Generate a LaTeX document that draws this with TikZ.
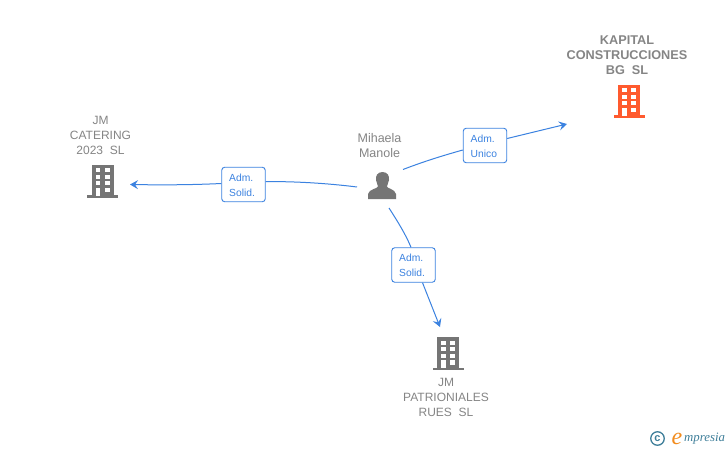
\documentclass[tikz,border=0pt]{standalone}
\usepackage{fontspec}
\setmainfont{Liberation Sans}
\newfontfamily\logofont{Liberation Serif}
\usetikzlibrary{arrows.meta}
\definecolor{linkblue}{HTML}{3B82E0}
\definecolor{icongray}{HTML}{757575}
\definecolor{textgray}{HTML}{858585}
\definecolor{hot}{HTML}{FF5A2E}
\definecolor{logoblue}{HTML}{3F7F9A}
\definecolor{logoorange}{HTML}{F28C1E}
\tikzset{
  x=1pt,y=-1pt,
  building/.pic={
    \fill[pic actions] (-11,-16) rectangle (11,15);
    \fill[pic actions] (-15.5,14.5) rectangle (15.5,17);
    \foreach \yy in {-12.5,-6,0.5}{
      \fill[white] (-7,\yy) rectangle (-2.5,{\yy+4});
      \fill[white] (2,\yy) rectangle (7,{\yy+4});
    }
    \fill[white] (-7,7) rectangle (-2.5,15);
    \fill[white] (2,7) rectangle (7,11.5);
  },
  entname/.style={text=textgray,font=\fontsize{12}{15}\selectfont,align=center,inner sep=0pt},
  boldname/.style={entname,font=\fontsize{12.7}{15}\selectfont\bfseries},
  role/.style={draw=linkblue,line width=0.9pt,rounded corners=3pt,text=linkblue,
    minimum width=43.5pt,minimum height=34.5pt,inner sep=0pt},
  roletext/.style={inner sep=0pt,text=linkblue,font=\fontsize{10.3}{15}\selectfont,align=left,anchor=west},
  link/.style={draw=linkblue,line width=1pt},
  arrowed/.style={link,-{Stealth[length=8pt,width=9pt,inset=3pt]}},
}
\begin{document}
\begin{tikzpicture}
\useasboundingbox (0,0) rectangle (728,450);
\fill[white] (0,0) rectangle (728,450);
% companies
\pic[icongray] at (102.5,180.5) {building};
\pic[hot] at (629,100.5) {building};
\pic[icongray] at (448,353) {building};
\node[entname] (jm) at (100.5,135.5) {JM\\CATERING\\2023\ \ SL};
\node[boldname] (kap) at (627,55) {KAPITAL\\CONSTRUCCIONES\\BG\ \ SL};
\node[entname] (rues) at (446,397.5) {JM\\PATRIONIALES\\RUES\ \ SL};
% person
\node[entname,font=\fontsize{12.5}{15}\selectfont] (per) at (379.5,146) {Mihaela\\Manole};
\fill[icongray] (382.5,172) .. controls (377,172) and (375.5,176.5) .. (376,180)
  .. controls (376.5,183) and (378,185) .. (378,186.5)
  .. controls (378,188.5) and (369,189) .. (368,194) -- (368,199) -- (396,199) -- (396,194)
  .. controls (395,189) and (387,188.5) .. (387,186.5)
  .. controls (387,185) and (388.5,183) .. (389,180)
  .. controls (389.5,176.5) and (388,172) .. (382.5,172) -- cycle;
% labels
\node[role] (r1) at (243.5,184.5) {};
\node[role] (r2) at (485,145.5) {};
\node[role] (r3) at (413.5,265) {};
\node[roletext] (t1) at (229,185) {Adm.\\Solid.};
\node[roletext] (t2) at (470.5,146) {Adm.\\Unico};
\node[roletext] (t3) at (399,265.5) {Adm.\\Solid.};
% connector ends
\coordinate (a1) at (357,187);
\coordinate (b1) at (130,184.5);
\coordinate (a2) at (403,169.5);
\coordinate (b2) at (567,124);
\coordinate (a3) at (389,208);
\coordinate (b3) at (440,327);
% connectors
\draw[link] (a1) .. controls (325,183) and (295,181.5) .. (r1.east |- 0,181.5);
\draw[arrowed] (r1.west |- 0,183.5) .. controls (190,185) and (160,185) .. (b1);
\draw[link] (a2) .. controls (425,161) and (445,155) .. (r2.west |- 0,150);
\draw[arrowed] (r2.east |- 0,138.5) -- (b2);
\draw[link] (a3) .. controls (398,222) and (406,235) .. (r3.north -| 411,0);
\draw[arrowed] (r3.south -| 422.5,0) -- (b3);
% logo
\node[draw=logoblue,line width=1.3pt,circle,minimum size=13.5pt,inner sep=0pt,text=logoblue,font=\fontsize{11}{11}\selectfont\bfseries] (cop) at (657.5,438.5) {c};
\node[inner sep=0pt,text=logoorange,font=\logofont\fontsize{24}{24}\selectfont\itshape] (loge) at (677,438.5) {e};
\node[inner sep=0pt,text=logoblue,font=\logofont\fontsize{12.8}{14}\selectfont\itshape,anchor=west] (logo) at (684,439) {mpresia};
\end{tikzpicture}
\end{document}
